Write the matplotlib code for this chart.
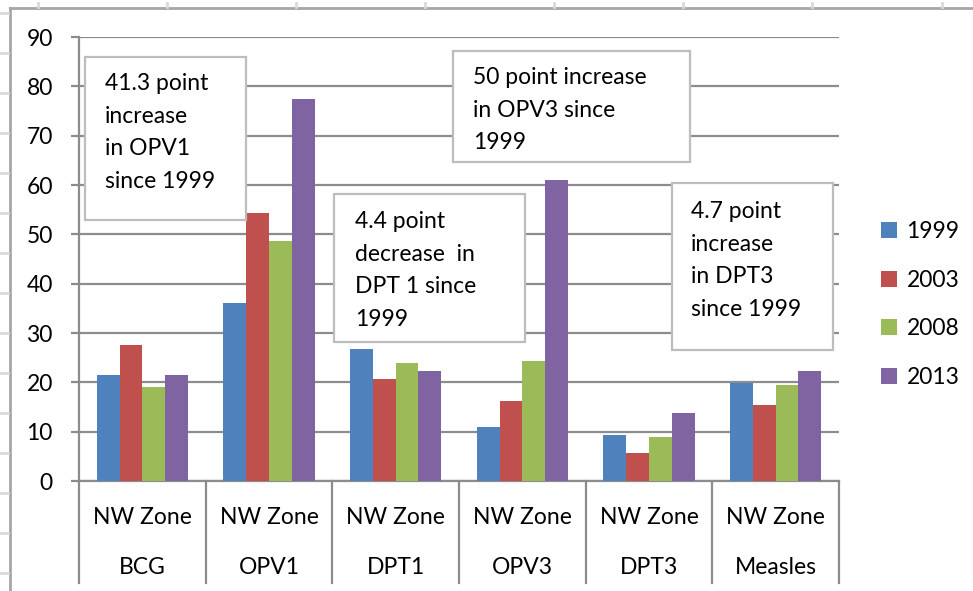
import numpy as np
import matplotlib
matplotlib.use("Agg")
import matplotlib.pyplot as plt
from matplotlib.patches import Rectangle, Patch
from matplotlib.lines import Line2D

plt.rcParams["font.family"] = ["Lato", "DejaVu Sans"]

# ── Data ──────────────────────────────────────────────────────────────────────
vaccines = ["BCG", "OPV1", "DPT1", "OPV3", "DPT3", "Measles"]
zone = "NW Zone"
years = ["1999", "2003", "2008", "2013"]
v1999 = [21.5, 36.0, 26.8, 10.9, 9.3, 19.9]
v2003 = [27.6, 54.3, 20.7, 16.2, 5.7, 15.4]
v2008 = [19.1, 48.6, 23.9, 24.3, 8.9, 19.5]
v2013 = [21.5, 77.4, 22.3, 61.0, 13.8, 22.3]
series = [v1999, v2003, v2008, v2013]
colors = ["#4F81BD", "#C0504D", "#9BBB59", "#8064A2"]

notes = [
    "41.3 point\nincrease\nin OPV1\nsince 1999",
    "50 point increase\nin OPV3 since\n1999",
    "4.4 point\ndecrease  in\nDPT 1 since\n1999",
    "4.7 point\nincrease\nin DPT3\nsince 1999",
]

# ── Layout (pixels) ───────────────────────────────────────────────────────────
W, H = 973, 591
FS = 16.5
fig = plt.figure(figsize=(W / 100, H / 100), dpi=100)
px = lambda x: x / W
py = lambda y: 1 - y / H

x0, x1, y0, y1 = 79, 839, 481, 37
ax = fig.add_axes([px(x0), py(y0), px(x1) - px(x0), py(y1) - py(y0)])

n = len(vaccines)
x = np.arange(n) + 0.5
w = 0.18
for i, (vals, c) in enumerate(zip(series, colors)):
    ax.bar(x + (i - 1.5) * w, vals, width=w, color=c, zorder=3, label=years[i])

ax.set_xlim(0, n)
ax.set_ylim(0, 90)
ax.set_yticks(np.arange(0, 91, 10))
ax.yaxis.grid(True, color="#8C8C8C", lw=1.6, zorder=0)
ax.set_xticks([])
for s in ["top", "right"]:
    ax.spines[s].set_visible(False)
for s in ["left", "bottom"]:
    ax.spines[s].set_color("#8C8C8C")
    ax.spines[s].set_linewidth(1.6)
ax.tick_params(axis="y", length=5.8, width=1.6, color="#8C8C8C", pad=13,
               labelsize=FS)

# category separators and two-level labels
for b in range(n + 1):
    ax.plot([b, b], [0, -20.7], color="#8C8C8C", lw=1.6, clip_on=False, zorder=4)
for xi, name in zip(x, vaccines):
    ax.text(xi, -7.3, zone, ha="center", va="center", fontsize=FS)
    ax.text(xi, -17.6, name, ha="center", va="center", fontsize=FS)

# ── Annotation boxes ──────────────────────────────────────────────────────────
boxes = [(85, 57, 246, 220, 105, 73),
         (453, 51, 690, 162, 473, 67),
         (334, 194, 525, 342, 355, 211),
         (672, 183, 833, 350, 691, 201)]
for (bx0, by0, bx1, by1, tx, ty), txt in zip(boxes, notes):
    fig.patches.append(Rectangle((px(bx0), py(by1)), px(bx1) - px(bx0),
                                 py(by0) - py(by1), transform=fig.transFigure,
                                 facecolor="white", edgecolor="#BDBDBD",
                                 lw=1.6, zorder=5))
    fig.text(px(tx), py(ty), txt, ha="left", va="top", fontsize=FS,
             linespacing=1.68, zorder=6)

# ── Legend ────────────────────────────────────────────────────────────────────
handles = [Patch(facecolor=c, edgecolor="none") for c in colors]
fig.legend(handles, years, loc="upper left", bbox_to_anchor=(px(872), py(212)),
           frameon=False, fontsize=FS, handlelength=0.7, handleheight=0.7,
           handletextpad=0.4, labelspacing=1.2, borderaxespad=0)

# ── Outer chart frame and sheet marks ─────────────────────────────────────────
fig.add_artist(Line2D([px(10), px(10)], [py(8), 0], color="#A6A6A6", lw=2))
fig.add_artist(Line2D([px(10), 1], [py(8), py(8)], color="#A6A6A6", lw=2))
for tx in [38, 167, 296, 425, 554, 683, 812, 942]:
    fig.add_artist(Line2D([px(tx), px(tx)], [py(3), py(7)], color="#D9D9D9", lw=2))
for ty in range(13, 591, 40):
    fig.add_artist(Line2D([0, px(8)], [py(ty), py(ty)], color="#D9D9D9", lw=2))

fig.savefig("out.png", dpi=100)
